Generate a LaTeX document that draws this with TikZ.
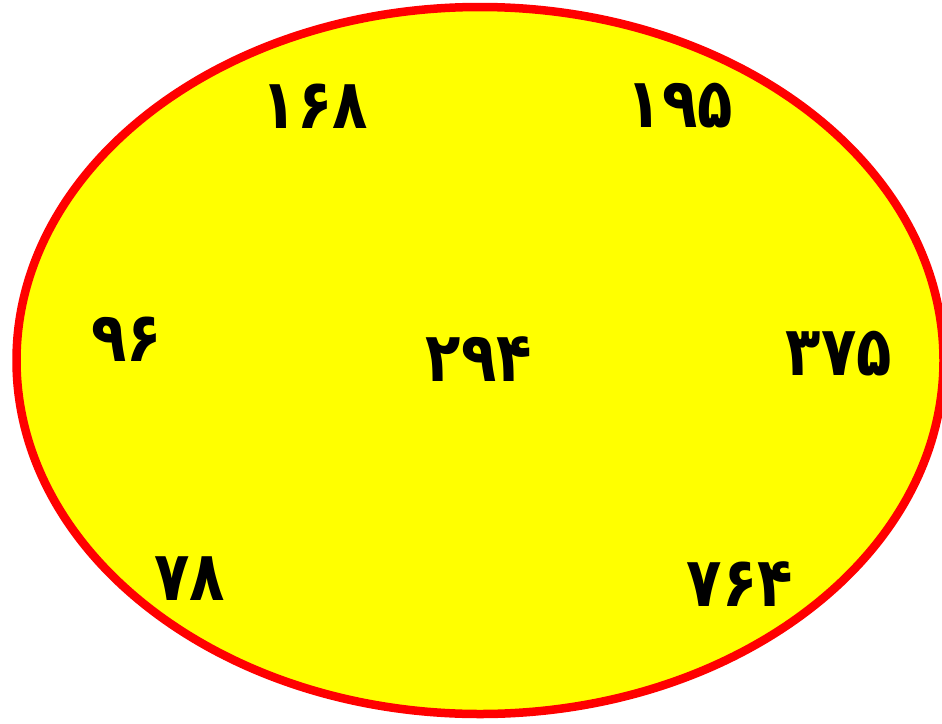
\documentclass[tikz,border=0pt]{standalone}
\usetikzlibrary{shapes.geometric}
\usepackage{fontspec}
\newfontfamily\arabicfont[Script=Arabic,FakeStretch=0.84]{DejaVu Sans}
\definecolor{fillyel}{RGB}{255,255,0}
\definecolor{edgered}{RGB}{255,0,0}
\begin{document}
\begin{tikzpicture}[x=1pt,y=-1pt,
  num/.style={font=\arabicfont\bfseries\fontsize{69}{72}\selectfont, inner sep=0pt, anchor=center}]
\fill[white] (0,0) rectangle (942,723);
\useasboundingbox (0,0) rectangle (942,723);
\clip (0,0) rectangle (942,723);
\node[ellipse, draw=edgered, fill=fillyel, line width=8.5pt, minimum width=927pt, minimum height=707pt, inner sep=0pt] (e) at (480,360.5) {};
\node[num] (a) at (315,106) {۱۶۸};
\node[num] (b) at (680,106) {۱۹۵};
\node[num] (c) at (127,339) {۹۶};
\node[num] (d) at (479,359) {۲۹۴};
\node[num] (f) at (839,354) {۳۷۵};
\node[num] (g) at (190,579) {۷۸};
\node[num] (h) at (740,584) {۷۶۴};
\end{tikzpicture}
\end{document}
